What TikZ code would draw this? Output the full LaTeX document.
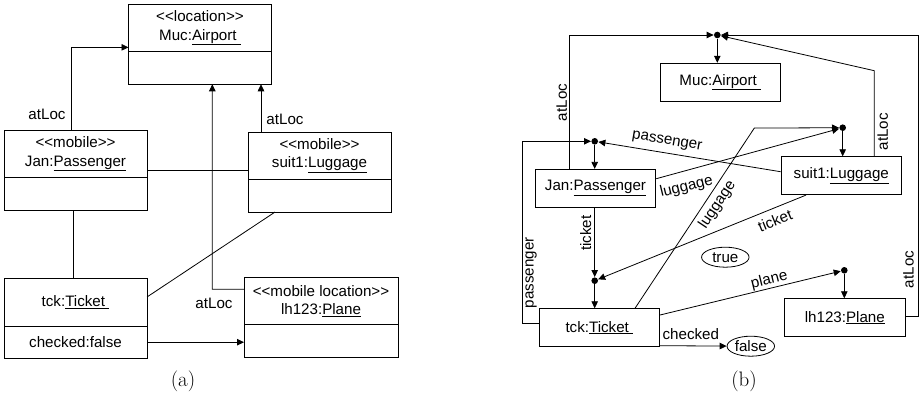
\documentclass[tikz,border=0pt]{standalone}
\usepackage{fontspec}
\newfontfamily\umlfont{Liberation Sans}
\usetikzlibrary{arrows.meta,positioning,shapes.geometric}

\begin{document}
\begin{tikzpicture}[x=1bp, y=1bp, line width=0.8bp,
      every node/.style={font=\umlfont\fontsize{15.2}{18.5}\selectfont},
      arr/.style={-{Triangle[length=7bp,width=6.5bp]}},
      head/.style={draw, minimum width=143bp, minimum height=47.5bp,
                   align=center, inner sep=0pt, outer sep=0pt},
      attr/.style={draw, minimum width=143bp, minimum height=32.5bp,
                   inner sep=0pt, outer sep=0pt},
      obj/.style={draw, minimum width=120.7bp, minimum height=38bp, inner sep=0pt},
      val/.style={draw, ellipse, minimum width=47.5bp, minimum height=20bp, inner sep=0pt},
      joint/.style={circle, fill, inner sep=0pt, minimum size=6.6bp},
      subcap/.style={font=\rmfamily\fontsize{21}{23}\selectfont}
    ]
    \useasboundingbox (0,0) rectangle (919,398);

    % (a)
    \node[head] (air) at (200,370) {<<location>>\\Muc:\underline{Airport\ }};
    \node[attr, anchor=north] (airAttr) at (air.south) {};
    \node[head] (jan) at (75.5,244) {<<mobile>>\\Jan:\underline{Passenger}};
    \node[attr, anchor=north] (janAttr) at (jan.south) {};
    \node[head] (lug) at (319.5,242.2) {<<mobile>>\\suit1:\underline{Luggage}};
    \node[attr, anchor=north] (lugAttr) at (lug.south) {};
    \node[head] (tck) at (75.5,95.8) {tck:\underline{Ticket\ }};
    \node[attr, anchor=north] (tckAttr) at (tck.south) {checked:false};
    \node[head, minimum width=154bp] (pln) at (321,97.2) {<<mobile location>>\\lh123:\underline{Plane}};
    \node[attr, minimum width=154bp, anchor=north] (plnAttr) at (pln.south) {};
    \coordinate (bendPln) at (212.3,108.7);

    \draw[arr] ([xshift=-4.5bp]jan.north) |- ([yshift=4.4bp]air.south west);
    \draw[arr] ([xshift=-58.5bp]lug.north) -- ([xshift=-58.5bp]lug.north |- airAttr.south);
    \draw[arr] ([yshift=11.5bp]pln.west) -- (bendPln) -- (bendPln |- airAttr.south);
    \draw ([yshift=-16bp]jan.east) -- ([yshift=-16bp]jan.east -| lug.west);
    \draw ([xshift=-2.2bp]janAttr.south) -- ([xshift=-2.2bp]tck.north);
    \draw ([xshift=-44.5bp]lugAttr.south) -- ([yshift=5.2bp]tck.east);
    \draw[arr] (tckAttr.east) -- (tckAttr.east -| plnAttr.west);

    \node (lJanLoc) at (47,284) {atLoc};
    \node (lLugLoc) at (285,279) {atLoc};
    \node (lPlnLoc) at (214,95) {atLoc};
    \node[subcap] (capA) at (183,16.3) {(a)};

    % (b)
    \node[joint] (dAir) at (717.3,363) {};
    \node[obj] (muc) at (720.3,315.8) {Muc:\underline{Airport\ }};
    \node[obj] (janB) at (595.5,209.7) {Jan:\underline{Passenger}};
    \node[joint] (dPas) at (594.7,256.7) {};
    \node[obj] (suitB) at (841.3,222.3) {suit1:\underline{Luggage}};
    \node[joint] (dLug) at (842.7,270.3) {};
    \node[obj] (tckB) at (599.3,70.3) {tck:\underline{Ticket\ }};
    \node[joint] (dTck) at (594.7,117.3) {};
    \node[obj] (plnB) at (844.8,80.3) {lh123:\underline{Plane}};
    \node[joint] (dPln) at (844.3,127.7) {};
    \node[val] (vTrue) at (725.3,140.8) {true};
    \node[val] (vFalse) at (750.8,51.8) {false};
    \coordinate (kLug) at (874.3,327.3);
    \coordinate (kPln) at (918.3,363);
    \coordinate (kPas) at (522.7,256.7);
    \coordinate (kLugT) at (754.3,269.9);

    \draw[arr] ([xshift=-26.2bp]janB.north) |- (dAir);
    \draw[arr] ([xshift=33bp]suitB.north) -- (kLug) -- (dAir);
    \draw[arr] ([yshift=1bp]plnB.east) -| (kPln) -- (dAir);
    \draw[arr] (dAir) -- (dAir |- muc.north);
    \draw[arr] ([yshift=4.4bp]tckB.west) -| (kPas) -- (dPas);
    \draw[arr] ([yshift=4bp]suitB.west) -- (dPas);
    \draw[arr] (dPas) -- (dPas |- janB.north);
    \draw[arr] ([yshift=9.6bp]janB.east) -- (dLug);
    \draw[arr] ([xshift=35.7bp]tckB.north) -- (kLugT) -- (dLug);
    \draw[arr] (dLug) -- (dLug |- suitB.north);
    \draw[arr] (dTck |- janB.south) -- (dTck);
    \draw[arr] ([xshift=-35.3bp]suitB.south) -- (dTck);
    \draw[arr] (dTck) -- (dTck |- tckB.north);
    \draw[arr] ([yshift=-18bp]tckB.east) -- (vFalse);
    \draw[arr] ([yshift=12.7bp]tckB.east) -- (dPln);
    \draw[arr] (dPln) -- (dPln |- plnB.north);

    \node[rotate=90] (lJanLocB) at (561.7,295.5) {atLoc};
    \node[rotate=90] (lLugLocB) at (882.7,266.3) {atLoc};
    \node[rotate=90] (lPlnLocB) at (908.5,128.5) {atLoc};
    \node[rotate=90] (lPasT) at (531,125.2) {passenger};
    \node[rotate=-9.5] (lPasS) at (667,256.3) {passenger};
    \node[rotate=13.8] (lLugJ) at (686.5,211.3) {luggage};
    \node[rotate=56.4] (lLugT) at (717.5,193) {luggage};
    \node[rotate=90] (lTckJ) at (585.8,164.7) {ticket};
    \node[rotate=22] (lTckS) at (775,177.2) {ticket};
    \node (lChk) at (690.8,64) {checked};
    \node[rotate=13.7] (lPln) at (769.3,118) {plane};
    \node[subcap] (capB) at (744,16.3) {(b)};
  \end{tikzpicture}
\end{document}
